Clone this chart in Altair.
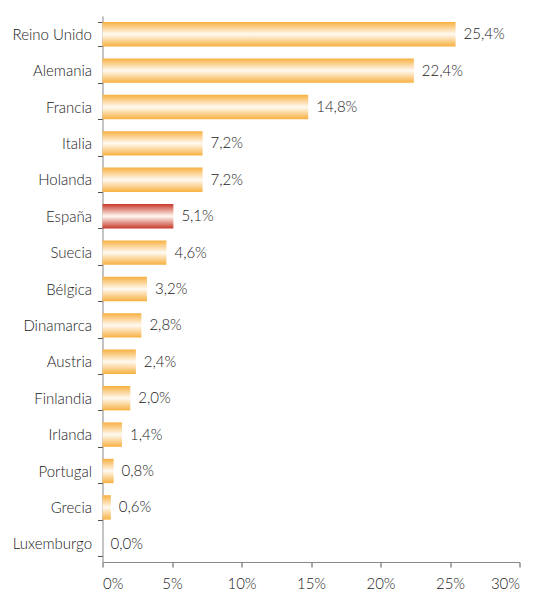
import altair as alt
import pandas as pd

countries = ["Reino Unido", "Alemania", "Francia", "Italia", "Holanda", "España", "Suecia",
             "Bélgica", "Dinamarca", "Austria", "Finlandia", "Irlanda", "Portugal", "Grecia", "Luxemburgo"]
values = [25.4, 22.4, 14.8, 7.2, 7.2, 5.1, 4.6, 3.2, 2.8, 2.4, 2.0, 1.4, 0.8, 0.6, 0.0]
highlight = "España"
x_ticks = [0, 5, 10, 15, 20, 25, 30]

df = pd.DataFrame({"pais": countries, "valor": values})
df["label"] = [f"{v:.1f}".replace(".", ",") + "%" for v in values]
df["hl"] = df["pais"] == highlight

FONT = "Lato"
FW = 300
TXT = "#222222"

def grad(c):
    return alt.Gradient(gradient="linear", x1=0, x2=0, y1=0, y2=1,
                        stops=[alt.GradientStop(color=c, offset=0),
                               alt.GradientStop(color="#fffaf2", offset=0.5),
                               alt.GradientStop(color=c, offset=1)])

y = alt.Y("pais:N", sort=countries, title=None,
          scale=alt.Scale(paddingInner=0.33, paddingOuter=0.165),
          axis=alt.Axis(tickBand="extent", labelFont=FONT, labelFontSize=15, labelFontWeight=FW,
                        labelColor=TXT, domainColor="#888", tickColor="#555", tickSize=5,
                        labelPadding=6))
x = alt.X("valor:Q", title=None, scale=alt.Scale(domain=[0, 30], nice=False),
          axis=alt.Axis(values=x_ticks, labelExpr="datum.value + '%'",
                        grid=False, labelFont=FONT, labelFontSize=15, labelFontWeight=FW,
                        labelColor=TXT, domainColor="#888", tickColor="#555", tickSize=5,
                        labelPadding=9))

base = alt.Chart(df)
bars = base.mark_bar(color=grad("#f8b040")).encode(x=x, y=y).transform_filter("!datum.hl")
bars_hl = base.mark_bar(color=grad("#c8382b")).encode(x=x, y=y).transform_filter("datum.hl")
text = base.mark_text(align="left", dx=8, font=FONT, fontSize=15, fontWeight=FW, color=TXT).encode(
    x=x, y=y, text="label:N")

chart = (bars + bars_hl + text).properties(
    width=417, height=546,
    background="white",
    autosize=alt.AutoSizeParams(type="none"),
    padding={"left": 94.5, "top": 8, "right": 12.5, "bottom": 31},
).configure_view(stroke=None)

chart.save("out.html", embed_options={"renderer": "svg", "actions": False})
